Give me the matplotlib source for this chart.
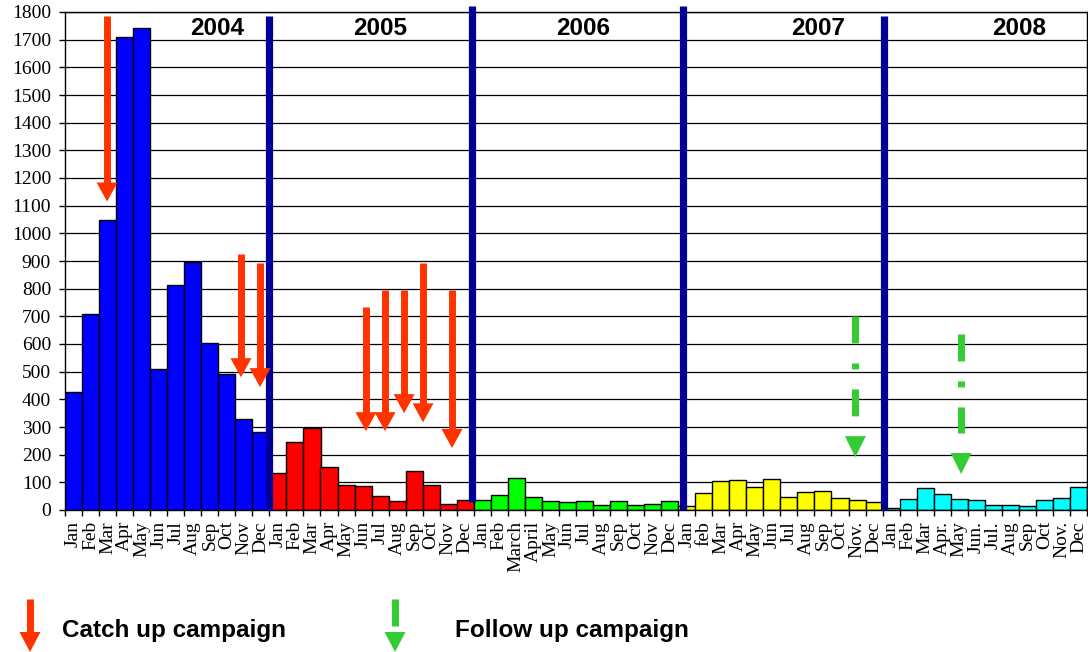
import matplotlib
matplotlib.use('Agg')
import matplotlib.pyplot as plt
from matplotlib.patches import Polygon
import numpy as np

plt.rcParams['lines.scale_dashes'] = False

# ---------------- data ----------------
years = ['2004', '2005', '2006', '2007', '2008']
labels_2004 = ['Jan', 'Feb', 'Mar', 'Apr', 'May', 'Jun', 'Jul', 'Aug', 'Sep', 'Oct', 'Nov', 'Dec']
labels_2005 = ['Jan', 'Feb', 'Mar', 'Apr', 'May', 'Jun', 'Jul', 'Aug', 'Sep', 'Oct', 'Nov', 'Dec']
labels_2006 = ['Jan', 'Feb', 'March', 'April', 'May', 'Jun', 'Jul', 'Aug', 'Sep', 'Oct', 'Nov', 'Dec']
labels_2007 = ['Jan', 'feb', 'Mar', 'Apr', 'May', 'Jun', 'Jul', 'Aug', 'Sep', 'Oct', 'Nov.', 'Dec']
labels_2008 = ['Jan', 'Feb', 'Mar', 'Apr.', 'May', 'Jun.', 'Jul.', 'Aug', 'Sep', 'Oct', 'Nov.', 'Dec']

cases_2004 = [428, 709, 1049, 1709, 1741, 508, 812, 898, 605, 493, 329, 282]
cases_2005 = [133, 246, 296, 154, 91, 88, 49, 33, 141, 91, 20, 37]
cases_2006 = [36, 53, 116, 48, 33, 28, 33, 19, 33, 19, 23, 33]
cases_2007 = [14, 62, 104, 107, 82, 111, 48, 66, 70, 45, 36, 28]
cases_2008 = [7, 40, 78, 58, 40, 36, 19, 19, 14, 36, 45, 82]

year_colors = ['#0000FF', '#FF0000', '#00FF00', '#FFFF00', '#00FFFF']

# campaign annotations: month position, arrow start value, arrow tip value
catchup_pos = [1.97, 9.83, 10.95, 17.17, 18.29, 19.41, 20.52, 22.22]
catchup_from = [1786, 924, 891, 732, 794, 794, 891, 794]
catchup_to = [1115, 480, 444, 285, 285, 350, 317, 224]
followup_pos = [45.9, 52.11]
followup_from = [700, 635]
followup_to = [191, 130]

# year dividers and year labels
divider_pos = [11.48, 23.4, 35.8, 47.59]
divider_bottom = [0, 29, 0, 0]
divider_top = [1786, 1822, 1822, 1786]
year_label_pos = [8.43, 18.0, 29.9, 43.7, 55.5]

# ---------------- figure ----------------
W, H = 1088, 652
fig = plt.figure(figsize=(W / 100, H / 100), dpi=100)
ax_l, ax_r, ax_t, ax_b = 65, 1087, 12, 510
ax = fig.add_axes([ax_l / W, 1 - ax_b / H, (ax_r - ax_l) / W, (ax_b - ax_t) / H])

all_cases = cases_2004 + cases_2005 + cases_2006 + cases_2007 + cases_2008
all_labels = labels_2004 + labels_2005 + labels_2006 + labels_2007 + labels_2008
all_colors = []
for c in year_colors:
    all_colors += [c] * 12
xpos = np.arange(len(all_cases))

ax.bar(xpos, all_cases, width=1.0, color=all_colors, edgecolor='black', linewidth=1.0, zorder=2)

ax.set_xlim(-0.5, len(all_cases) - 0.5)
ax.set_ylim(0, 1800)
ax.set_yticks(np.arange(0, 1801, 100))
ax.yaxis.grid(True, color='black', linewidth=0.9)
ax.set_axisbelow(True)

serif = 'Liberation Serif'
for lab in ax.get_yticklabels():
    lab.set_fontfamily(serif)
    lab.set_fontsize(14)
ax.tick_params(axis='y', direction='out', length=4.5, width=1, pad=5.5)

ax.set_xticks(np.arange(-0.5, len(all_cases), 1.0))
ax.set_xticklabels([])
ax.set_xticks(xpos, minor=True)
ax.set_xticklabels(all_labels, minor=True, rotation=90, fontfamily=serif, fontsize=14)
ax.tick_params(axis='x', which='major', direction='out', length=4.5, width=1)
ax.tick_params(axis='x', which='minor', length=0, pad=8)

for s in ax.spines.values():
    s.set_linewidth(1.0)
    s.set_color('black')

# pixel -> data scale
sx = len(all_cases) / (ax_r - ax_l)
sy = 1800 / (ax_b - ax_t)

# dividers
for xp, yb, yt in zip(divider_pos, divider_bottom, divider_top):
    ax.plot([xp, xp], [yb, yt], color='#000099', linewidth=5.2, solid_capstyle='butt',
            zorder=5, clip_on=False)

# year labels
for xp, yr in zip(year_label_pos, years):
    ax.text(xp, 1742, yr, ha='center', va='center', fontsize=17.5, fontweight='bold',
            fontfamily='Liberation Sans', zorder=6)

red = '#FF3300'
green = '#33CC33'


def head(axis, x, tip, w_px, h_px, color, kx, ky, z=7):
    poly = Polygon([(x - w_px / 2 * kx, tip + h_px * ky), (x + w_px / 2 * kx, tip + h_px * ky), (x, tip)],
                   closed=True, facecolor=color, edgecolor='none', zorder=z, clip_on=False)
    axis.add_patch(poly)


for xp, y0, y1 in zip(catchup_pos, catchup_from, catchup_to):
    ax.plot([xp, xp], [y0, y1 + 18 * sy], color=red, linewidth=5.0, solid_capstyle='butt', zorder=7)
    head(ax, xp, y1, 21, 19, red, sx, sy)

for xp, y0, y1 in zip(followup_pos, followup_from, followup_to):
    ax.plot([xp, xp], [y0, y1 + 41 * sy], color=green, linewidth=5.0, dash_capstyle='butt',
            linestyle=(0, (19.4, 14.4, 4.3, 14.4)), zorder=7)
    head(ax, xp, y1, 21, 21, green, sx, sy)

# ---------------- legend (pixel overlay) ----------------
ov = fig.add_axes([0, 0, 1, 1], zorder=10)
ov.set_xlim(0, W)
ov.set_ylim(H, 0)
ov.axis('off')
ov.patch.set_alpha(0)

ov.plot([30, 30], [599, 633], color=red, linewidth=5.0, solid_capstyle='butt')
head(ov, 30, 652, 21, 20, red, 1, -1)
ov.text(62, 630, 'Catch up campaign', ha='left', va='center', fontsize=17.5, fontweight='bold',
        fontfamily='Liberation Sans')

ov.plot([395, 395], [599, 626], color=green, linewidth=5.0, solid_capstyle='butt')
head(ov, 395, 652, 21, 20, green, 1, -1)
ov.text(455, 630, 'Follow up campaign', ha='left', va='center', fontsize=17.5, fontweight='bold',
        fontfamily='Liberation Sans')

fig.savefig('out.png', dpi=100)
